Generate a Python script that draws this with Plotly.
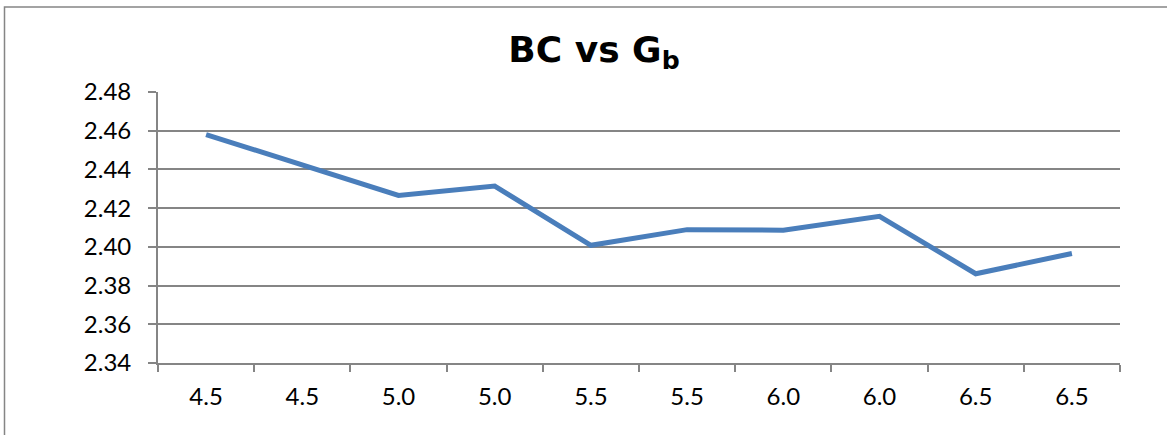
import plotly.graph_objects as go

# ---- data ----
gb_labels = ["4.5", "4.5", "5.0", "5.0", "5.5", "5.5", "6.0", "6.0", "6.5", "6.5"]
bc_values = [2.458, 2.442, 2.4266, 2.4314, 2.4008, 2.4089, 2.4086, 2.4158, 2.3861, 2.3966]
y_min, y_max, y_step = 2.34, 2.48, 0.02
title_text = "<b>BC vs G<sub>b</sub></b>"

# ---- layout constants ----
W, H = 1167, 435
ML, MR, MT, MB = 158, 47, 92, 72
GRAY = "#858585"
TICKFONT = dict(family="Lato", size=24, color="#000000")

idx = list(range(len(gb_labels)))
boundaries = [i - 0.5 for i in range(len(gb_labels) + 1)]
xr = [-0.5, len(gb_labels) - 0.5]

fig = go.Figure()
fig.add_trace(go.Scatter(
    x=idx, y=bc_values, mode="lines",
    line=dict(color="#4A7EBB", width=5),
    showlegend=False, hoverinfo="skip",
))
# invisible trace for the label axis
fig.add_trace(go.Scatter(
    x=idx, y=bc_values, mode="lines", xaxis="x2",
    line=dict(color="rgba(0,0,0,0)", width=0),
    showlegend=False, hoverinfo="skip",
))

# frame (left & top border visible)
pw = W - ML - MR
ph = H - MT - MB
frame_left_px, frame_top_px = 4.5, 7
fig.add_shape(
    type="rect", xref="paper", yref="paper",
    x0=(frame_left_px - ML) / pw, x1=(W + 30 - ML) / pw,
    y0=-(MB + 30) / ph, y1=(H - MB - frame_top_px) / ph,
    line=dict(color=GRAY, width=1.5), fillcolor="rgba(0,0,0,0)", layer="below",
)

fig.update_layout(
    width=W, height=H,
    margin=dict(l=ML, r=MR, t=MT, b=MB, pad=0),
    paper_bgcolor="white", plot_bgcolor="white",
    title=dict(
        text=title_text, x=594 / W, xref="container", xanchor="center",
        y=1 - 49 / H, yref="container", yanchor="middle",
        font=dict(family="DejaVu Sans", size=36, color="#000000"),
    ),
    xaxis=dict(
        range=xr, tickmode="array", tickvals=boundaries, showticklabels=False,
        ticks="outside", ticklen=7, tickwidth=1.5, tickcolor=GRAY,
        showline=True, linecolor=GRAY, linewidth=1.8,
        showgrid=False, zeroline=False, fixedrange=True,
    ),
    xaxis2=dict(
        range=xr, overlaying="x", side="bottom", anchor="y",
        tickmode="array", tickvals=idx, ticktext=gb_labels,
        ticks="", showline=False, showgrid=False, zeroline=False,
        tickfont=TICKFONT, ticklabelstandoff=17,
    ),
    yaxis=dict(
        range=[y_min, y_max], tickmode="linear", tick0=y_min, dtick=y_step,
        tickformat=".2f",
        ticks="outside", ticklen=8, tickwidth=1.5, tickcolor=GRAY,
        showline=True, linecolor=GRAY, linewidth=1.8,
        showgrid=True, gridcolor=GRAY, gridwidth=1.7, zeroline=False,
        tickfont=TICKFONT, ticklabelstandoff=12,
    ),
)

fig.write_html(
    "out.html",
    config={"displayModeBar": False},
    post_script="document.body.style.margin='0px';document.body.style.overflow='hidden';",
)
